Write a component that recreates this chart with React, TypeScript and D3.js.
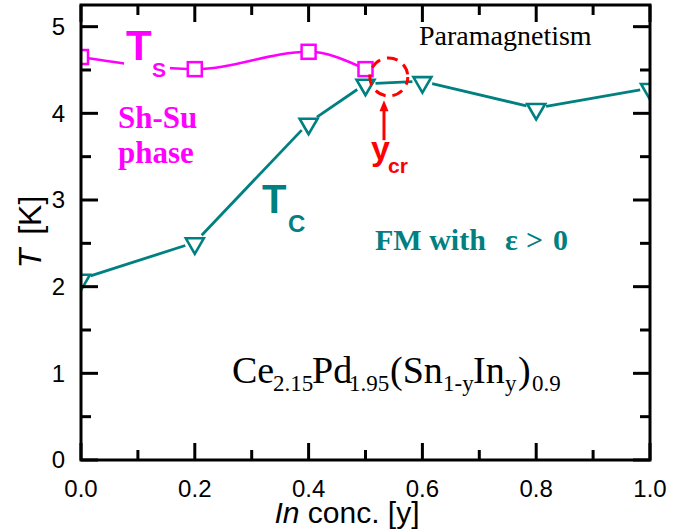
import React from "react";
import * as d3 from "d3";

const tsX = [0.0, 0.2, 0.4, 0.5];
const tsY = [4.65, 4.51, 4.71, 4.51];
const tcX = [0.0, 0.2, 0.4, 0.5, 0.6, 0.8, 1.0];
const tcY = [2.09, 2.51, 3.89, 4.34, 4.37, 4.06, 4.29];
const xTicks = [0.0, 0.2, 0.4, 0.6, 0.8, 1.0];
const xTickLabels = ["0.0", "0.2", "0.4", "0.6", "0.8", "1.0"];
const xMinor = [0.1, 0.3, 0.5, 0.7, 0.9];
const yTicks = [0, 1, 2, 3, 4, 5];
const yTickLabels = ["0", "1", "2", "3", "4", "5"];
const yMinor = [0.5, 1.5, 2.5, 3.5, 4.5];
const ycrCenter = [0.541, 4.42];
const ycrArrow = [0.5325, 3.69, 4.15];

const W = 695, H = 531;
const L = 81, R = 650, T = 5, B = 460;
const MAG = "#FF00FF", TEAL = "#008080", RED = "#FF0000";

export default function App() {
  const x = d3.scaleLinear().domain([0, 1]).range([L, R]);
  const y = d3.scaleLinear().domain([0, 5.25]).range([B, T]);

  const tsPts: [number, number][] = tsX.map((v, i) => [x(v), y(tsY[i])]);
  const tsPath = d3.line().curve(d3.curveMonotoneX)(tsPts) || "";

  const tcPts = tcX.map((v, i) => [x(v), y(tcY[i])]);
  const gap = 10;
  const segs = tcPts.slice(1).map((p, i) => {
    const a = tcPts[i];
    const dx = p[0] - a[0], dy = p[1] - a[1];
    const len = Math.hypot(dx, dy);
    const ux = dx / len, uy = dy / len;
    return [a[0] + ux * gap, a[1] + uy * gap, p[0] - ux * gap, p[1] - uy * gap];
  });
  const tri = d3.symbol().type(d3.symbolTriangle).size(140)() || "";

  const majorLen = 17, minorLen = 10;
  const arrowX = x(ycrArrow[0]);
  const arrowBot = y(ycrArrow[1]);
  const arrowTip = y(ycrArrow[2]);

  return (
    <svg width={W} height={H} style={{ position: "absolute", left: 0, top: 0, background: "#fff" }}>
      <defs>
        <clipPath id="plot">
          <rect x={L} y={T} width={R - L} height={B - T} />
        </clipPath>
      </defs>
      <rect x={0} y={0} width={W} height={H} fill="#fff" />

      {/* Tc line + markers */}
      <g clipPath="url(#plot)">
        {segs.map((s, i) => (
          <line key={i} x1={s[0]} y1={s[1]} x2={s[2]} y2={s[3]} stroke={TEAL} strokeWidth={2.8} />
        ))}
        {tcPts.map((p, i) => (
          <path key={i} d={tri} transform={`translate(${p[0]},${p[1] + 1}) rotate(180)`} fill="#fff" stroke={TEAL} strokeWidth={2.6} />
        ))}
      </g>

      {/* Ts curve + markers */}
      <g clipPath="url(#plot)">
        <path d={tsPath} fill="none" stroke={MAG} strokeWidth={2.5} />
        {tsPts.map((p, i) => (
          <rect key={i} x={p[0] - 7} y={p[1] - 7} width={14} height={14} fill="#fff" stroke={MAG} strokeWidth={2.5} />
        ))}
      </g>

      {/* label backgrounds */}
      <rect x={124} y={45} width={46} height={35} fill="#fff" />
      <text x={126} y={60} fontFamily="Arial, Liberation Sans, sans-serif" fontWeight="bold" fontSize={42} fill={MAG}>T</text>
      <text x={152} y={77} fontFamily="Arial, Liberation Sans, sans-serif" fontWeight="bold" fontSize={21} fill={MAG}>S</text>

      <text x={118} y={128} fontFamily="Times New Roman, Liberation Serif, serif" fontWeight="bold" fontSize={31} fill={MAG}>Sh-Su</text>
      <text x={118} y={163} fontFamily="Times New Roman, Liberation Serif, serif" fontWeight="bold" fontSize={31} fill={MAG}>phase</text>

      <text x={419} y={45} fontFamily="Times New Roman, Liberation Serif, serif" fontSize={28} fill="#000">Paramagnetism</text>

      <text x={262} y={213} fontFamily="Arial, Liberation Sans, sans-serif" fontWeight="bold" fontSize={40} fill={TEAL}>T</text>
      <text x={288} y={232} fontFamily="Arial, Liberation Sans, sans-serif" fontWeight="bold" fontSize={24} fill={TEAL}>C</text>

      <text y={250} fontFamily="Times New Roman, Liberation Serif, serif" fontWeight="bold" fontSize={30} fill={TEAL}>
        <tspan x={375}>FM with</tspan>
        <tspan x={505}>ε</tspan>
        <tspan x={526}>&gt;</tspan>
        <tspan x={553}>0</tspan>
      </text>

      {/* formula */}
      <g fontFamily="Times New Roman, Liberation Serif, serif" fill="#000">
        <text x={232} y={383} fontSize={38}>Ce</text>
        <text x={273} y={391} fontSize={23}>2.15</text>
        <text x={312} y={383} fontSize={38}>Pd</text>
        <text x={349} y={391} fontSize={23}>1.95</text>
        <text x={390} y={383} fontSize={38}>(Sn</text>
        <text x={443} y={391} fontSize={23}>1-y</text>
        <text x={473} y={383} fontSize={38}>In</text>
        <text x={505} y={391} fontSize={23}>y</text>
        <text x={518} y={383} fontSize={38}>)</text>
        <text x={532} y={391} fontSize={23}>0.9</text>
      </g>

      {/* ycr annotation */}
      <ellipse cx={x(ycrCenter[0])} cy={y(ycrCenter[1])} rx={19} ry={19} fill="none" stroke={RED} strokeWidth={3} strokeDasharray="11 7" strokeDashoffset={3} />
      <line x1={arrowX} y1={arrowBot} x2={arrowX} y2={arrowTip + 8} stroke={RED} strokeWidth={3} />
      <path d={`M${arrowX},${arrowTip} L${arrowX - 4.5},${arrowTip + 11} L${arrowX + 4.5},${arrowTip + 11} Z`} fill={RED} />
      <text x={371} y={160} fontFamily="Arial, Liberation Sans, sans-serif" fontWeight="bold" fontSize={34} fill={RED}>y</text>
      <text x={388} y={173} fontFamily="Arial, Liberation Sans, sans-serif" fontWeight="bold" fontSize={21} fill={RED}>cr</text>

      {/* frame */}
      <rect x={L} y={T} width={R - L} height={B - T} fill="none" stroke="#000" strokeWidth={3} />
      <g stroke="#000" strokeWidth={3}>
        {xTicks.map((t, i) => (
          <g key={"xt" + i}>
            <line x1={x(t)} x2={x(t)} y1={B} y2={B - majorLen} />
            <line x1={x(t)} x2={x(t)} y1={T} y2={T + majorLen} />
          </g>
        ))}
        {xMinor.map((t, i) => (
          <g key={"xm" + i}>
            <line x1={x(t)} x2={x(t)} y1={B} y2={B - minorLen} />
            <line x1={x(t)} x2={x(t)} y1={T} y2={T + minorLen} />
          </g>
        ))}
        {yTicks.map((t, i) => (
          <g key={"yt" + i}>
            <line x1={L} x2={L + majorLen} y1={y(t)} y2={y(t)} />
            <line x1={R} x2={R - majorLen} y1={y(t)} y2={y(t)} />
          </g>
        ))}
        {yMinor.map((t, i) => (
          <g key={"ym" + i}>
            <line x1={L} x2={L + minorLen} y1={y(t)} y2={y(t)} />
            <line x1={R} x2={R - minorLen} y1={y(t)} y2={y(t)} />
          </g>
        ))}
      </g>

      {/* tick labels */}
      <g fontFamily="Arial, Liberation Sans, sans-serif" fontSize={24} fill="#000">
        {xTicks.map((t, i) => (
          <text key={i} x={x(t)} y={497} textAnchor="middle">{xTickLabels[i]}</text>
        ))}
        {yTicks.map((t, i) => (
          <text key={i} x={65} y={y(t)} dy="0.35em" textAnchor="end">{yTickLabels[i]}</text>
        ))}
      </g>

      {/* axis labels */}
      <text x={347} y={523} textAnchor="middle" fontFamily="Arial, Liberation Sans, sans-serif" fontSize={30} fill="#000">
        <tspan fontStyle="italic">In</tspan> conc. [y]
      </text>
      <text transform="translate(41,232) rotate(-90)" textAnchor="middle" fontFamily="Arial, Liberation Sans, sans-serif" fontSize={32} fill="#000">
        <tspan fontStyle="italic">T</tspan>
        <tspan dx={14}>[K]</tspan>
      </text>
    </svg>
  );
}
